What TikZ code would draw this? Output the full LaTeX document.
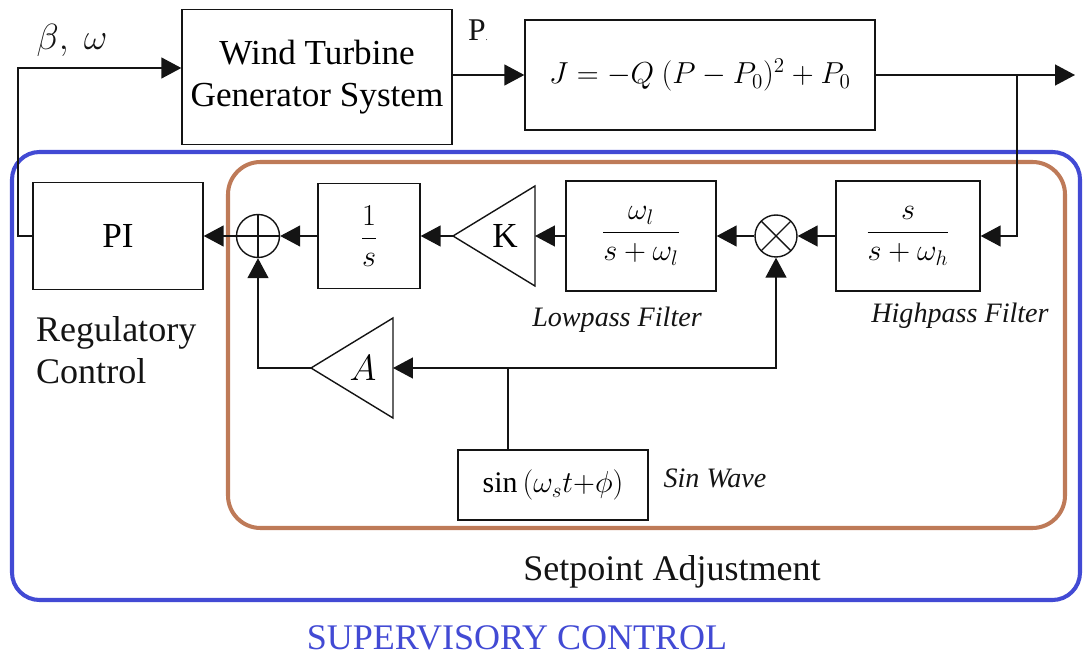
\documentclass[tikz,border=0pt]{standalone}
\usepackage{fontspec}
\setmainfont{Liberation Serif}
\usetikzlibrary{arrows.meta,calc}
\definecolor{royal}{RGB}{66,74,212}
\definecolor{clay}{RGB}{190,122,88}
\definecolor{ink}{RGB}{20,20,20}
\tikzset{
  >={Triangle[length=4mm,width=4.2mm]},
  block/.style={draw=ink,line width=0.8pt,align=center,inner sep=2pt,
    font=\fontsize{20}{24}\selectfont},
  mathbox/.style={block,font=\fontsize{17}{20}\selectfont},
  junct/.style={circle,draw=ink,line width=0.8pt,minimum size=#1,inner sep=0pt},
  junct/.default=0.86cm,
  plus/.style={junct,path picture={
    \draw[line width=0.8pt] (path picture bounding box.north) -- (path picture bounding box.south)
      (path picture bounding box.west) -- (path picture bounding box.east);}},
  times/.style={junct,path picture={
    \draw[line width=0.8pt] (path picture bounding box.north west) -- (path picture bounding box.south east)
      (path picture bounding box.north east) -- (path picture bounding box.south west);}},
  flow/.style={->,line width=0.8pt,draw=ink},
  wire/.style={line width=0.8pt,draw=ink},
  zone/.style={draw=#1,line width=2.3pt},
  tag/.style={font=\fontsize{16}{19}\selectfont\itshape,text=ink},
  label/.style={font=\fontsize{20.5}{24}\selectfont,text=ink,align=left},
  % gain triangle, apex to the left
  pics/gain/.style={code={
    \draw[wire] (-82,0) coordinate (-tip) -- (0,-50) -- (0,50) -- cycle;
    \coordinate (-in) at (0,0);
    \node[font=\fontsize{20}{24}\selectfont] (-lbl) at (-30,0) {#1};
  }},
}

\begin{document}
\begin{tikzpicture}[x=0.02cm,y=-0.02cm]
  \useasboundingbox (0,0) rectangle (1083,655);
  % frames
  \draw[zone=royal,rounded corners=0.55cm] (12,152) rectangle (1080,600);
  \draw[zone=clay,rounded corners=0.65cm] (228,162) rectangle (1065,528);
  % plant and cost function
  \node[block,minimum width=5.4cm,minimum height=2.7cm] (wtgs) at (317,77) {Wind Turbine\\Generator System};
  \node[mathbox,minimum width=7cm,minimum height=2.2cm] (cost) at (700,75) {$J=-Q\ (P-P_0)^2+P_0$};
  % setpoint chain
  \node[block,minimum width=3.4cm,minimum height=2.14cm] (pi) at (118,236) {PI};
  \node[plus] (sum) at (258,236) {};
  \node[mathbox,minimum width=2.04cm,minimum height=2.1cm] (integ) at (369,236) {$\displaystyle\frac{1}{s}$};
  \pic (Kg) at (535,236) {gain=K};
  \node[mathbox,minimum width=3cm,minimum height=2.2cm] (lpf) at (641,236) {$\displaystyle\frac{\omega_l}{s+\omega_l}$};
  \node[times,minimum size=0.84cm] (mult) at (776,236) {};
  \node[mathbox,minimum width=2.88cm,minimum height=2.2cm] (hpf) at (908,236) {$\displaystyle\frac{s}{s+\omega_h}$};
  \pic (Ag) at (393,368) {gain=$A$};
  \node[mathbox,minimum width=3.8cm,minimum height=1.4cm] (sine) at (553,485) {$\sin\left(\omega_s t{+}\phi\right)$};
  \coordinate (fb) at (18,68);
  \coordinate (out) at (1075,75);
  \coordinate (br) at (1017,75);
  \coordinate (junc) at (508,368);
  % connectors
  \draw[flow] (pi.west) -| (fb) -- (wtgs.west |- fb);
  \draw[flow] (wtgs.east |- cost.west) -- (cost.west);
  \draw[flow] (cost.east) -- (out);
  \draw[flow] (br) |- (hpf.east);
  \draw[flow] (hpf.west) -- (mult.east);
  \draw[flow] (mult.west) -- (lpf.east);
  \draw[flow] (lpf.west) -- (Kg-in);
  \draw[flow] (Kg-tip) -- (integ.east);
  \draw[flow] (integ.west) -- (sum.east);
  \draw[flow] (sum.west) -- (pi.east);
  \draw[flow] (Ag-tip) -| (sum.south);
  \draw[wire] (junc |- sine.north) -- (junc);
  \draw[flow] (junc) -- (Ag-in);
  \draw[flow] (junc) -| (mult.south);
  % labels
  \node[label] (beta) at (72,40) {$\beta,\ \omega$};
  \node[label,font=\fontsize{18}{22}\selectfont] (pout) at (478,30) {P{\tiny .}};
  \node[label,anchor=north west] (reg) at (30,310) {Regulatory\\Control};
  \node[tag] (lpftag) at (617,320) {Lowpass Filter};
  \node[tag] (hpftag) at (960,316) {Highpass Filter};
  \node[tag] (sinetag) at (715,478) {Sin Wave};
  \node[label] (setp) at (672,572) {Setpoint Adjustment};
  \node[label,text=royal] (super) at (517,638) {SUPERVISORY CONTROL};
\end{tikzpicture}
\end{document}
